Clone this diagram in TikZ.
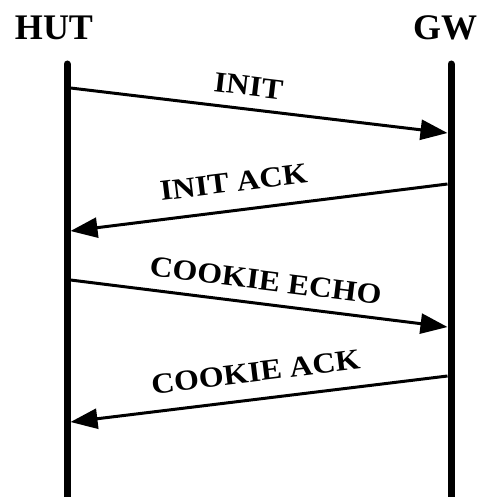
\documentclass[tikz,border=0pt]{standalone}
\usepackage{fontspec}
\setmainfont{Liberation Serif}
\usetikzlibrary{arrows.meta}
\newcommand\msgtext[1]{\scalebox{1.1}[1]{#1}}
\begin{document}
\begin{tikzpicture}[x=1pt,y=-1pt,
  lifeline/.style={line width=7pt,line cap=round},
  msg/.style={line width=3pt,-{Triangle[length=27pt,width=20pt]}},
  actor/.style={font=\bfseries\fontsize{36}{36}\selectfont,inner sep=0pt},
  msglabel/.style={font=\bfseries\fontsize{29}{29}\selectfont,inner sep=0pt,sloped}]
\useasboundingbox (0,0) rectangle (485,497);
\node[actor] (hut) at (54,28) {HUT};
\node[actor] (gw) at (445,28) {GW};
\coordinate (hutTop) at (67,64);
\coordinate (hutBot) at (67,500);
\coordinate (gwTop) at (451,64);
\coordinate (gwBot) at (451,500);
\coordinate (a1) at (70.5,88);  \coordinate (b1) at (447.5,133);
\coordinate (a2) at (447.5,184); \coordinate (b2) at (70.5,231);
\coordinate (a3) at (70.5,280); \coordinate (b3) at (447.5,327);
\coordinate (a4) at (447.5,376); \coordinate (b4) at (70.5,422);
\draw[msg] (a1) -- node[msglabel,pos=0.465,above=12pt] (l1) {\msgtext{INIT}} (b1);
\draw[msg] (a2) -- node[msglabel,pos=0.558,above=17pt] (l2) {\msgtext{INIT ACK}} (b2);
\draw[msg] (a3) -- node[msglabel,pos=0.51,above=12pt] (l3) {\msgtext{COOKIE ECHO}} (b3);
\draw[msg] (a4) -- node[msglabel,pos=0.50,above=16pt] (l4) {\msgtext{COOKIE ACK}} (b4);
\draw[lifeline] (hutTop) -- (hutBot);
\draw[lifeline] (gwTop) -- (gwBot);
\end{tikzpicture}
\end{document}
